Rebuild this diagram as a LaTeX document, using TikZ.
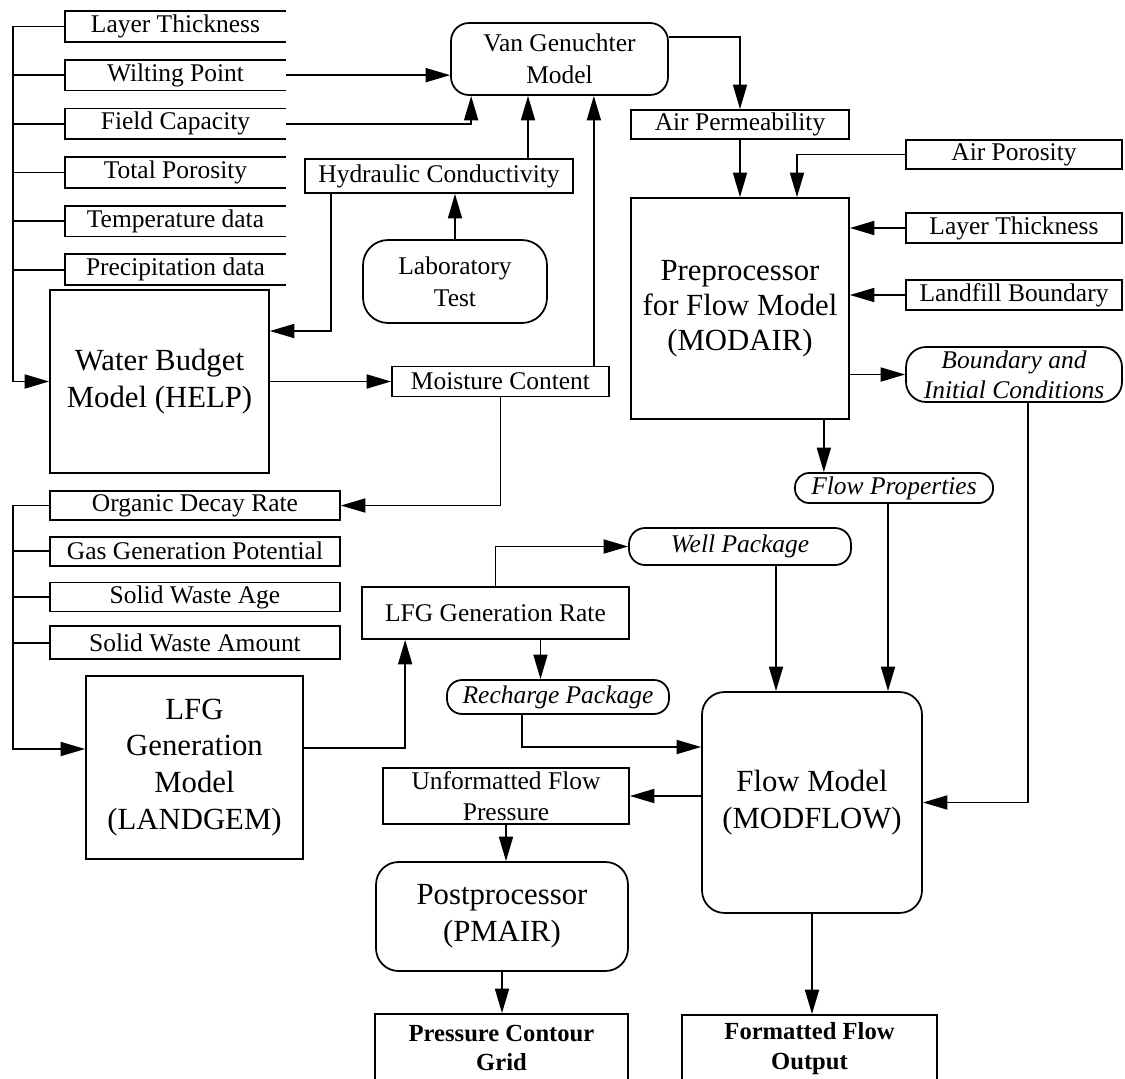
\documentclass[tikz,border=0pt]{standalone}
\usepackage{fontspec}
\setmainfont{Liberation Serif}
\usetikzlibrary{
    arrows.meta,
    positioning,
    calc,
}

\begin{document}
\begin{tikzpicture}[
    x=0.02cm, y=-0.02cm,
    line width=1pt,
    >={Triangle[length=14pt,width=8pt]},
    inbox/.style={inner sep=0pt, minimum width=4.38cm, minimum height=0.58cm, font=\fontsize{14.5}{17}\selectfont},
    databox/.style={draw, inner sep=0pt, align=center, minimum height=0.58cm, font=\fontsize{14.5}{17}\selectfont},
    model/.style={draw, inner sep=0pt, align=center, font=\fontsize{17.5}{21}\selectfont},
    roundmodel/.style={model, rounded corners=0.45cm},
    pill/.style={draw, inner sep=0pt, rounded corners=0.28cm, minimum height=0.6cm, font=\fontsize{14.5}{17}\selectfont\itshape},
    outbox/.style={draw, inner sep=0pt, align=center, minimum height=1.36cm, font=\fontsize{14}{17}\selectfont\bfseries},
]
\useasboundingbox (0,0) rectangle (1125,1078);

% inputs of the water budget model
\node[inbox] (lt1) at (175.5,26.5) {Layer Thickness};
\node[inbox, below=0.358cm of lt1] (wp) {Wilting Point};
\node[inbox, below=0.358cm of wp] (fc) {Field Capacity};
\node[inbox, below=0.358cm of fc] (tp) {Total Porosity};
\node[inbox, below=0.358cm of tp] (td) {Temperature data};
\node[inbox, below=0.358cm of td] (pd) {Precipitation data};
\foreach \n in {lt1,wp,fc,tp,td,pd}
    \draw (\n.north east) -- (\n.north west) -- (\n.south west) -- (\n.south east);

\node[model, minimum width=4.38cm, minimum height=3.66cm] (help) at (159.5,381.5) {Water Budget\\Model (HELP)};
\node[databox, minimum width=5.36cm, minimum height=0.68cm] (hc) at (439,176) {Hydraulic Conductivity};
\node[model, rounded corners=0.5cm, minimum width=3.68cm, minimum height=1.66cm, font=\fontsize{14.5}{18}\selectfont] (lab) at (455,281.5) {Laboratory\\Test};
\node[model, rounded corners=0.36cm, minimum width=4.34cm, minimum height=1.44cm, font=\fontsize{14.5}{18}\selectfont] (vg) at (559.5,59) {Van Genuchter\\Model};
\node[databox, minimum width=4.34cm, minimum height=0.6cm] (mc) at (500.5,381.5) {Moisture Content};

% preprocessor
\node[databox, minimum width=4.36cm] (ap) at (740,124.5) {Air Permeability};
\node[model, minimum width=4.36cm, minimum height=4.42cm, font=\fontsize{17.5}{20}\selectfont] (pre) at (740,308.5) {Preprocessor\\for Flow Model\\(MODAIR)};
\node[databox, minimum width=4.32cm] (apo) at (1014,154.5) {Air Porosity};
\node[databox, minimum width=4.32cm, minimum height=0.6cm] (lt2) at (1014,228) {Layer Thickness};
\node[databox, minimum width=4.32cm, minimum height=0.6cm] (lb) at (1014,295) {Landfill Boundary};
\node[pill, align=center, rounded corners=0.4cm, minimum width=4.32cm, minimum height=1.1cm, font=\fontsize{14.5}{17}\selectfont\itshape] (bic) at (1014,374.5) {Boundary and\\Initial Conditions};
\node[pill, minimum width=3.96cm] (fp) at (894,488) {Flow Properties};

% inputs of the gas generation model
\node[databox, minimum width=5.8cm] (odr) at (195,505.5) {Organic Decay Rate};
\node[databox, minimum width=5.8cm, below=0.3cm of odr] (ggp) {Gas Generation Potential};
\node[databox, minimum width=5.8cm, below=0.3cm of ggp] (swa) {Solid Waste Age};
\node[databox, minimum width=5.8cm, minimum height=0.66cm, below=0.26cm of swa] (swm) {Solid Waste Amount};
\node[model, minimum width=4.34cm, minimum height=3.66cm] (lgm) at (194.5,767.5) {LFG\\Generation\\Model\\(LANDGEM)};

% flow model
\node[databox, minimum width=5.34cm, minimum height=1.04cm] (lgr) at (495.5,613) {LFG Generation Rate};
\node[pill, minimum width=4.44cm, minimum height=0.74cm, rounded corners=0.32cm] (wpk) at (740,546.5) {Well Package};
\node[pill, minimum width=4.44cm, minimum height=0.68cm, rounded corners=0.3cm] (rpk) at (558,697) {Recharge Package};
\node[roundmodel, minimum width=4.4cm, minimum height=4.42cm] (fm) at (812,802.5) {Flow Model\\(MODFLOW)};
\node[databox, minimum width=4.92cm, minimum height=1.12cm, font=\fontsize{14.5}{18}\selectfont] (ufp) at (506,796) {Unformatted Flow\\Pressure};
\node[roundmodel, minimum width=5.04cm, minimum height=2.18cm] (pp) at (502,916.5) {Postprocessor\\(PMAIR)};
\node[outbox, minimum width=5.06cm] (pcg) at (501.5,1048) {Pressure Contour\\Grid};
\node[outbox, minimum width=5.1cm] (ffo) at (809.5,1049) {Formatted Flow\\Output};

\coordinate (bus) at (13,0);

% water budget connections
\draw[->] (lt1.west) -- (lt1.west -| bus) |- (help.west);
\foreach \n in {wp,fc,tp,td,pd}
    \draw (\n.west) -- (\n.west -| bus);
\draw[->] (wp.east) -- (wp.east -| vg.west);
\path (vg.south west) ++(21,0) coordinate (v1);
\draw[->] (fc.east) -| (v1);
\path (hc.north) ++(89,0) coordinate (h1);
\draw[->] (h1) -- (h1 |- vg.south);
\draw[->] (lab.north) -- (lab.north |- hc.south);
\path (hc.south west) ++(27,0) coordinate (h2);
\draw[->] (h2) |- ([yshift=1.01cm]help.east);
\draw[->] (help.east) -- (mc.west);
\path (mc.north east) ++(-16,0) coordinate (m1);
\draw[->] (m1) -- (m1 |- vg.south);
\draw[->] (mc.south) |- (odr.east);

% preprocessor connections
\draw[->] ([yshift=0.44cm]vg.east) -| (ap.north);
\draw[->] (ap.south) -- (pre.north);
\draw[->] (apo.west) -| ([xshift=1.14cm]pre.north);
\draw[->] (lt2.west) -- (lt2.west -| pre.east);
\draw[->] (lb.west) -- (lb.west -| pre.east);
\draw[->] (pre.east |- bic.west) -- (bic.west);
\path (pre.south east) ++(-26,0) coordinate (p1);
\draw[->] (p1) -- (p1 |- fp.north);
\path (bic.south) ++(14,0) coordinate (b1);
\draw[->] (b1) |- (fm.east);
\path (fp.south) ++(-6,0) coordinate (f1);
\draw[->] (f1) -- (f1 |- fm.north);

% gas generation connections
\draw[->] (odr.west) -- (odr.west -| bus) |- ([yshift=0.37cm]lgm.west);
\foreach \n in {ggp,swa,swm}
    \draw (\n.west) -- (\n.west -| bus);
\path (lgr.south west) ++(44,0) coordinate (g2);
\draw[->] ([yshift=0.39cm]lgm.east) -| (g2);
\draw[->] (lgr.north) |- (wpk.west);
\path (lgr.south) ++(45,0) coordinate (g1);
\draw[->] (g1) -- (g1 |- rpk.north);
\path (wpk.south) ++(36,0) coordinate (w1);
\draw[->] (w1) -- (w1 |- fm.north);
\path (rpk.south) ++(-36,0) coordinate (r1);
\draw[->] (r1) |- ([yshift=1.11cm]fm.west);

% outputs
\draw[->] (fm.west |- ufp.east) -- (ufp.east);
\draw[->] (ufp.south) -- (ufp.south |- pp.north);
\draw[->] (pp.south) -- (pp.south |- pcg.north);
\draw[->] (fm.south) -- (fm.south |- ffo.north);

\end{tikzpicture}
\end{document}
